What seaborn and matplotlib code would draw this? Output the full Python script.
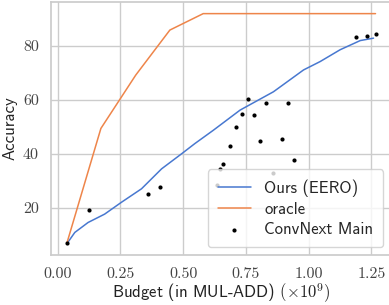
import matplotlib
matplotlib.use("Agg")
import matplotlib.pyplot as plt
import seaborn as sns
import pandas as pd

# Data
ours_x = [0.037, 0.068, 0.121, 0.187, 0.254, 0.334, 0.414, 0.494, 0.547, 0.620, 0.727,
          0.860, 0.980, 1.046, 1.126, 1.206, 1.259]
ours_y = [6.7, 10.8, 14.5, 17.6, 22.0, 27.0, 34.4, 40.0, 43.8, 48.7, 56.2,
          63.0, 71.1, 74.2, 78.6, 82.0, 82.9]
oracle_x = [0.036, 0.172, 0.311, 0.447, 0.580, 1.267]
oracle_y = [6.7, 49.4, 69.2, 85.9, 92.0, 92.0]
conv_x = [0.036, 0.125, 0.358, 0.407, 0.635, 0.648, 0.659, 0.685, 0.709, 0.733, 0.758,
          0.782, 0.806, 0.832, 0.857, 0.893, 0.917, 0.943, 1.188, 1.233, 1.267]
conv_y = [6.7, 19.3, 25.0, 27.8, 28.3, 34.3, 36.2, 42.9, 49.8, 54.6, 60.2,
          54.2, 44.9, 59.0, 33.0, 45.3, 58.7, 37.6, 83.3, 83.7, 84.3]
xticks = [0.00, 0.25, 0.50, 0.75, 1.00, 1.25]
yticks = [20, 40, 60, 80]

sns.set_theme(style="whitegrid")
plt.rcParams["mathtext.fontset"] = "cm"
plt.rcParams["axes.unicode_minus"] = False

fig = plt.figure(figsize=(3.89, 3.05), dpi=100)
ax = fig.add_axes([0.132, 0.164, 0.873, 0.829])

pal = sns.color_palette("muted")
df_ours = pd.DataFrame({"x": ours_x, "y": ours_y})
df_or = pd.DataFrame({"x": oracle_x, "y": oracle_y})
df_cv = pd.DataFrame({"x": conv_x, "y": conv_y})

sns.lineplot(data=df_ours, x="x", y="y", ax=ax, color=pal[0], lw=1.1, label="Ours (EERO)")
sns.lineplot(data=df_or, x="x", y="y", ax=ax, color=pal[1], lw=1.1, label="oracle")
sns.scatterplot(data=df_cv, x="x", y="y", ax=ax, color="black", s=9, linewidth=0,
                label="ConvNext Main", zorder=3)

ax.set_xticks(xticks)
ax.set_yticks(yticks)
ax.set_xticklabels([f"{v:.2f}" for v in xticks], fontfamily="cmr10", fontsize=11.5, color="#444444")
ax.set_yticklabels([f"{v}" for v in yticks], fontfamily="cmr10", fontsize=11.5, color="#444444")
ax.tick_params(axis="both", pad=3)

ax.set_xlabel(r"Budget (in MUL-ADD) $(\times 10^9)$", fontfamily="cmss10", fontsize=12,
              color="#222222", labelpad=0)
ax.set_ylabel("Accuracy", fontfamily="cmss10", fontsize=12, color="#222222", labelpad=4)

leg = ax.legend(loc="lower right", prop={"family": "cmss10", "size": 12}, frameon=True,
                handlelength=2.0, borderpad=0.6, labelspacing=0.32, borderaxespad=0.45)

fig.savefig("out.png", dpi=100)
